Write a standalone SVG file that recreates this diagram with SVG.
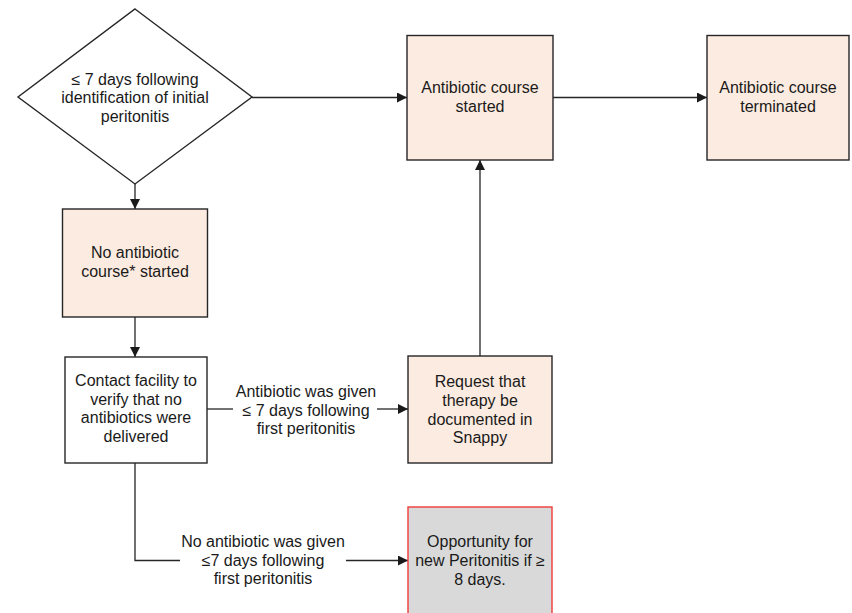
<svg xmlns="http://www.w3.org/2000/svg" width="852" height="613" viewBox="0 0 852 613">
  <defs>
    <marker id="arrow" viewBox="0 0 10 10" refX="10" refY="5" markerWidth="10" markerHeight="10" markerUnits="userSpaceOnUse" orient="auto">
      <path d="M0,0 L10,5 L0,10 Z" fill="#1a1a1a"/>
    </marker>
    <style>
      .box { stroke: #262626; stroke-width: 1.4; }
      .peach { fill: #fcebe0; }
      .plain { fill: #ffffff; }
      .grey { fill: #d9d9d9; stroke: #f03a3a; stroke-width: 1.4; }
      .edge { fill: none; stroke: #262626; stroke-width: 1.3; }
      text { font-family: "Liberation Sans", Arial, sans-serif; font-size: 16px; fill: #1a1a1a; text-anchor: middle; }
    </style>
  </defs>

  <rect width="852" height="613" fill="#ffffff"/>

  <g id="connectors">
    <path class="edge" d="M252,97.5 L407,97.5" marker-end="url(#arrow)"/>
    <path class="edge" d="M553,97.5 L707,97.5" marker-end="url(#arrow)"/>
    <path class="edge" d="M135,184 L135,209" marker-end="url(#arrow)"/>
    <path class="edge" d="M135,317 L135,357" marker-end="url(#arrow)"/>
    <path class="edge" d="M207,409 L233,409"/>
    <path class="edge" d="M377,409 L408,409" marker-end="url(#arrow)"/>
    <path class="edge" d="M480,356 L480,160" marker-end="url(#arrow)"/>
    <path class="edge" d="M135,463 L135,560.5 L180,560.5"/>
    <path class="edge" d="M346,560.5 L408,560.5" marker-end="url(#arrow)"/>
  </g>

  <g id="decision">
    <polygon class="box plain" points="135,9 252,97 135,184 18,97"/>
    <text x="135" y="85">≤ 7 days following</text>
    <text x="135" y="103">identification of initial</text>
    <text x="135" y="122">peritonitis</text>
  </g>

  <g id="course-started">
    <rect class="box peach" x="407" y="35.5" width="146" height="124.5"/>
    <text x="480" y="93">Antibiotic course</text>
    <text x="480" y="112">started</text>
  </g>

  <g id="course-terminated">
    <rect class="box peach" x="707" y="35.5" width="142" height="124.5"/>
    <text x="778" y="93">Antibiotic course</text>
    <text x="778" y="112">terminated</text>
  </g>

  <g id="no-course">
    <rect class="box peach" x="62.5" y="209" width="145" height="108"/>
    <text x="135" y="258">No antibiotic</text>
    <text x="135" y="277">course* started</text>
  </g>

  <g id="contact-facility">
    <rect class="box plain" x="65" y="357" width="142" height="106"/>
    <text x="136" y="386">Contact facility to</text>
    <text x="136" y="405">verify that no</text>
    <text x="136" y="423">antibiotics were</text>
    <text x="136" y="442">delivered</text>
  </g>

  <g id="request-documented">
    <rect class="box peach" x="408" y="356" width="144" height="107"/>
    <text x="480" y="387">Request that</text>
    <text x="480" y="406">therapy be</text>
    <text x="480" y="425">documented in</text>
    <text x="480" y="443">Snappy</text>
  </g>

  <g id="new-peritonitis">
    <rect class="grey" x="408" y="507" width="144" height="110"/>
    <text x="480" y="547">Opportunity for</text>
    <text x="480" y="566">new Peritonitis if ≥</text>
    <text x="480" y="585">8 days.</text>
  </g>

  <g id="edge-labels">
    <text x="306" y="397">Antibiotic was given</text>
    <text x="306" y="416">≤ 7 days following</text>
    <text x="306" y="434">first peritonitis</text>
    <text x="263" y="547">No antibiotic was given</text>
    <text x="263" y="566">≤7 days following</text>
    <text x="263" y="584">first peritonitis</text>
  </g>
</svg>
